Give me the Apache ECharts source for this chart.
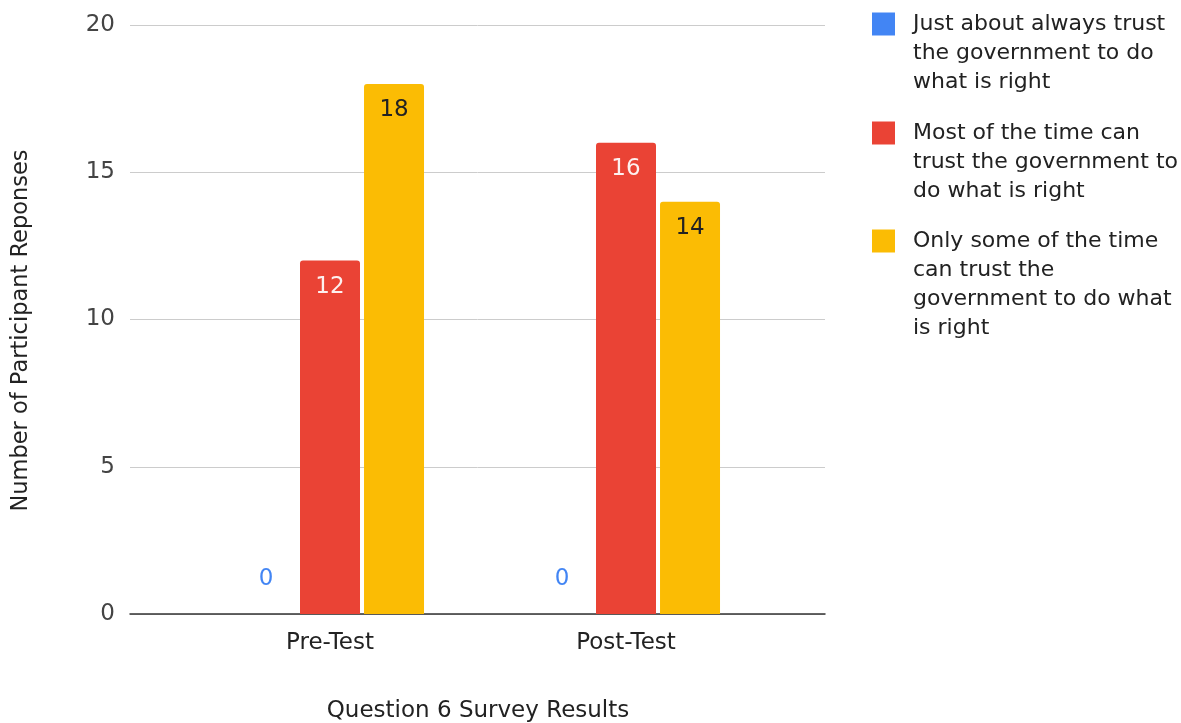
<!DOCTYPE html>
<html><head><meta charset="utf-8">
<script src="https://cdn.jsdelivr.net/npm/echarts@6/dist/echarts.min.js"></script>
<style>html,body{margin:0;padding:0;background:#fff}#c{width:1181px;height:723px}</style>
</head><body><div id="c"></div>
<script>
const categories = ['Pre-Test', 'Post-Test'];
const seriesNames = [
  'Just about always trust the government to do what is right',
  'Most of the time can trust the government to do what is right',
  'Only some of the time can trust the government to do what is right'
];
const legendLines = [
  'Just about always trust\nthe government to do\nwhat is right',
  'Most of the time can\ntrust the government to\ndo what is right',
  'Only some of the time\ncan trust the\ngovernment to do what\nis right'
];
const justAbout = [0, 0];
const mostTime = [12, 16];
const someTime = [18, 14];
const yTicks = [0, 5, 10, 15, 20];

const colors = ['#4285F4', '#EA4335', '#FBBC04'];
const labelColors = ['#4285F4', '#fdf0ef', '#222222'];
const FONT = '"DejaVu Sans"';
const FS = 23;
const chart = echarts.init(document.getElementById('c'), null, {renderer: 'canvas'});

const values = [justAbout, mostTime, someTime];
const series = values.map((v, i) => ({
  name: seriesNames[i],
  type: 'bar',
  xAxisIndex: 1,
  yAxisIndex: 1,
  data: v,
  barWidth: 60,
  barGap: '6.7%',
  itemStyle: {color: colors[i], borderRadius: [3, 3, 0, 0]},
  label: {
    show: true,
    position: i === 0 ? 'top' : 'insideTop',
    distance: i === 0 ? 23 : 15,
    color: labelColors[i],
    fontSize: FS,
    fontFamily: FONT
  }
}));

const lineH = 29;
const ICON = 23;
const legends = legendLines.map((txt, i) => {
  const n = txt.split('\n').length;
  // blank lines above so the first real line sits level with the icon
  const padded = ' \n'.repeat(n - 1) + txt;
  const m = 2 * n - 1;
  const iconTop = [12.5, 121.5, 229.5][i];
  const above = m * lineH / 2 - ICON / 2;
  return {
    show: true,
    orient: 'vertical',
    left: 867,
    top: iconTop - 5 - above,
    itemWidth: ICON,
    itemHeight: ICON,
    itemGap: 0,
    icon: 'rect',
    data: [{name: seriesNames[i]}],
    formatter: () => padded,
    textStyle: {fontSize: 22, fontFamily: FONT, color: '#222', lineHeight: lineH, padding: [0, 0, 0, 13]},
    selectedMode: false
  };
});

chart.setOption({
  animation: false,
  textStyle: {fontFamily: FONT},
  legend: legends,
  grid: [
    {left: 130, right: 356, top: 25, bottom: 109, outerBoundsMode: 'none'},
    {left: 182, right: 407, top: 25, bottom: 109, outerBoundsMode: 'none'}
  ],
  xAxis: [
    {type: 'value', gridIndex: 0, min: 0, max: 1, show: true,
     axisLine: {show: true, onZero: false, lineStyle: {color: '#333', width: 1.5}},
     axisTick: {show: false}, axisLabel: {show: false}, splitLine: {show: false}},
    {type: 'category', gridIndex: 1, data: categories,
     axisLine: {show: false}, axisTick: {show: false},
     axisLabel: {fontSize: FS, color: '#222', margin: 18, fontFamily: FONT},
     name: 'Question 6 Survey Results', nameLocation: 'middle', nameGap: 86,
     nameTextStyle: {fontSize: FS, color: '#222', fontFamily: FONT}}
  ],
  yAxis: [
    {type: 'value', gridIndex: 0, min: 0, max: 20, interval: 5,
     axisLine: {show: false}, axisTick: {show: false},
     axisLabel: {fontSize: FS, color: '#444', margin: 15, fontFamily: FONT,
       formatter: v => yTicks.includes(v) ? String(v) : ''},
     splitLine: {lineStyle: {color: '#cccccc', width: 1}},
     name: 'Number of Participant Reponses', nameLocation: 'middle', nameGap: 97, nameRotate: 90,
     nameTextStyle: {fontSize: 22.5, color: '#222', fontFamily: FONT, padding: [0, 22, 0, 0]}},
    {type: 'value', gridIndex: 1, min: 0, max: 20, interval: 5, show: false}
  ],
  series: series
});
</script></body></html>
